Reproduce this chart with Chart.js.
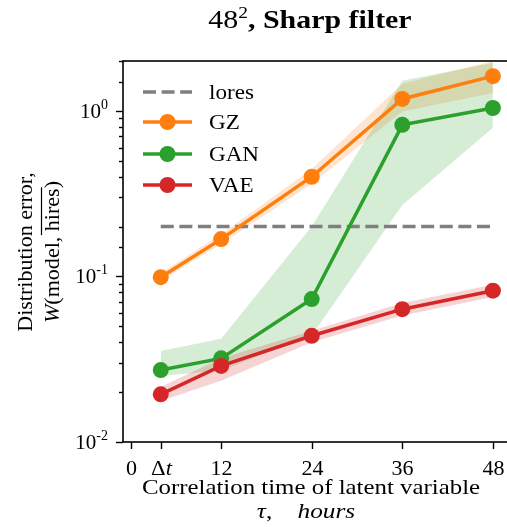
<!DOCTYPE html>
<html>
<head>
<meta charset="utf-8">
<script src="https://cdn.jsdelivr.net/npm/chart.js@4.4.1/dist/chart.umd.min.js"></script>
<style>
  html, body { margin: 0; padding: 0; background: #fff; overflow: hidden; }
  #wrap { width: 507px; height: 527px; overflow: hidden; }
</style>
</head>
<body>
<div id="wrap"><canvas id="errChart" width="520" height="527"></canvas></div>
<script>
// correlation time of the latent variable (hours), first point is dt
const hours = [4, 12, 24, 36, 48];
const xTickValues = [0, 4, 12, 24, 36, 48];
const xTickLabels = ["0", "Δt", "12", "24", "36", "48"];
const yTickValues = [0.01, 0.1, 1];
const yTickExps = ["-2", "-1", "0"];

// low-res baseline
const loresErr = [0.2, 0.2, 0.2, 0.2, 0.2];

// mean distribution error and spread for each model
const gzErr = [0.099, 0.168, 0.40, 1.18, 1.62];
const gzLow = [0.094, 0.157, 0.362, 0.99, 1.28];
const gzHigh = [0.105, 0.18, 0.445, 1.46, 2.0];

const ganErr = [0.0272, 0.032, 0.073, 0.823, 1.04];
const ganLow = [0.025, 0.027, 0.044, 0.27, 0.79];
const ganHigh = [0.0355, 0.042, 0.2, 1.52, 1.95];

const vaeErr = [0.0194, 0.0288, 0.0438, 0.0634, 0.082];
const vaeLow = [0.0177, 0.0234, 0.040, 0.058, 0.075];
const vaeHigh = [0.0215, 0.032, 0.047, 0.069, 0.089];

const seriesNames = ["GZ", "GAN", "VAE"];
const seriesColors = ["#ff7f0e", "#2ca02c", "#d62728"];
const loresColor = "#7f7f7f";

const SERIF = '"Liberation Serif", "DejaVu Serif", serif';

function pts(ys) {
  return hours.map((h, i) => ({ x: h, y: ys[i] }));
}

function alpha(hex, a) {
  const n = parseInt(hex.slice(1), 16);
  return `rgba(${(n >> 16) & 255}, ${(n >> 8) & 255}, ${n & 255}, ${a})`;
}

// band = invisible lower edge + upper edge filled down to it
function bandSets(low, high, color, order) {
  return [
    { data: pts(low), borderWidth: 0, pointRadius: 0, fill: false, order: order },
    { data: pts(high), borderWidth: 0, pointRadius: 0, fill: "-1",
      backgroundColor: alpha(color, 0.2), order: order },
  ];
}

function lineSet(name, ys, color, order) {
  return {
    label: name, data: pts(ys), borderColor: color, backgroundColor: color,
    borderWidth: 3.5, pointRadius: 8, pointHoverRadius: 8, pointBorderWidth: 0,
    fill: false, order: order,
  };
}

// bands sit under every line (higher order = drawn earlier)
const datasets = [
  { label: "lores", data: pts(loresErr), borderColor: loresColor, borderWidth: 3.5,
    borderDash: [13, 5.6], pointRadius: 0, fill: false, order: 10 },
  ...bandSets(gzLow, gzHigh, seriesColors[0], 20),
  lineSet(seriesNames[0], gzErr, seriesColors[0], 7),
  ...bandSets(ganLow, ganHigh, seriesColors[1], 19),
  lineSet(seriesNames[1], ganErr, seriesColors[1], 5),
  ...bandSets(vaeLow, vaeHigh, seriesColors[2], 18),
  lineSet(seriesNames[2], vaeErr, seriesColors[2], 3),
];

// draws [text, font, dy] pieces side by side, centred on cx, stretched by k
function drawPieces(ctx, pieces, cx, y, k) {
  k = k || 1;
  let total = 0;
  pieces.forEach(p => { ctx.font = p[1]; total += ctx.measureText(p[0]).width; });
  ctx.save();
  ctx.translate(cx, y);
  ctx.scale(k, 1);
  let x = -total / 2;
  const spans = [];
  pieces.forEach(p => {
    ctx.font = p[1];
    const w = ctx.measureText(p[0]).width;
    ctx.fillText(p[0], x, p[2] || 0);
    spans.push([x * k, (x + w) * k]);
    x += w;
  });
  ctx.restore();
  return spans;
}

const axesPlugin = {
  id: "axesPlugin",
  afterDraw(chart) {
    const ctx = chart.ctx;
    const area = chart.chartArea;
    const xs = chart.scales.x;
    const ys = chart.scales.y;
    ctx.save();
    ctx.fillStyle = "#000";
    ctx.strokeStyle = "#000";
    ctx.textBaseline = "alphabetic";
    ctx.textAlign = "left";

    // frame
    ctx.lineWidth = 1.6;
    ctx.strokeRect(area.left, area.top, area.right - area.left, area.bottom - area.top);

    // x ticks and labels
    ctx.lineWidth = 1.4;
    xTickValues.forEach((v, i) => {
      const px = Math.round(xs.getPixelForValue(v)) + 0.5;
      ctx.beginPath();
      ctx.moveTo(px, area.bottom);
      ctx.lineTo(px, area.bottom + 7);
      ctx.stroke();
      const lab = xTickLabels[i];
      if (lab === "Δt") {
        drawPieces(ctx, [["Δ", `21px ${SERIF}`], ["t", `italic 21px ${SERIF}`]], px, 475, 1.08);
      } else {
        drawPieces(ctx, [[lab, `21px ${SERIF}`]], px, 475, 1.05);
      }
    });

    // y ticks: long ones on decades, short ones between
    ys.ticks.forEach(t => {
      const lg = Math.log10(t.value);
      const major = Math.abs(lg - Math.round(lg)) < 1e-6;
      const py = Math.round(ys.getPixelForValue(t.value)) + 0.5;
      ctx.beginPath();
      ctx.moveTo(area.left, py);
      ctx.lineTo(area.left - (major ? 7 : 4), py);
      ctx.stroke();
    });
    yTickValues.forEach((v, i) => {
      const py = ys.getPixelForValue(v);
      ctx.font = `14px ${SERIF}`;
      const ew = ctx.measureText(yTickExps[i]).width;
      ctx.textAlign = "right";
      ctx.fillText(yTickExps[i], 108, py - 2);
      ctx.font = `21px ${SERIF}`;
      ctx.fillText("10", 108 - ew, py + 7);
      ctx.textAlign = "left";
    });

    // x axis title
    drawPieces(ctx, [["Correlation time of latent variable", `22px ${SERIF}`]], 311, 494, 1.13);
    drawPieces(ctx, [["τ", `italic 22px ${SERIF}`], [",    ", `22px ${SERIF}`],
      ["hours", `italic 22px ${SERIF}`]], 306, 518, 1.15);

    // y axis title, rotated
    const cy = 252;
    ctx.save();
    ctx.translate(32, cy);
    ctx.rotate(-Math.PI / 2);
    drawPieces(ctx, [["Distribution error,", `21px ${SERIF}`]], 0, 0, 1.05);
    ctx.restore();
    ctx.save();
    ctx.translate(59, cy);
    ctx.rotate(-Math.PI / 2);
    const sp = drawPieces(ctx, [["W", `italic 21px ${SERIF}`], ["(model, ", `21px ${SERIF}`],
      ["hires", `21px ${SERIF}`], [")", `21px ${SERIF}`]], 0, 0, 1.05);
    // bar over "hires"
    ctx.lineWidth = 1.2;
    ctx.beginPath();
    ctx.moveTo(sp[2][0] - 4, -17.5);
    ctx.lineTo(sp[2][1] + 1, -17.5);
    ctx.stroke();
    ctx.restore();

    // title
    drawPieces(ctx, [["48", `26px ${SERIF}`], ["2", `17px ${SERIF}`, -10],
      [", Sharp filter", `bold 26px ${SERIF}`]], 310, 28, 1.15);

    // legend
    const rows = [92, 122, 154, 185];
    const lx0 = 143, lx1 = 192;
    chart.data.datasets.filter(d => d.label).forEach((d, i) => {
      const y = rows[i];
      ctx.strokeStyle = d.borderColor;
      ctx.lineWidth = 3.5;
      ctx.setLineDash(d.borderDash || []);
      ctx.beginPath();
      ctx.moveTo(lx0, y);
      ctx.lineTo(lx1, y);
      ctx.stroke();
      ctx.setLineDash([]);
      if (d.pointRadius) {
        ctx.fillStyle = d.backgroundColor;
        ctx.beginPath();
        ctx.arc((lx0 + lx1) / 2, y, 8, 0, 2 * Math.PI);
        ctx.fill();
      }
      ctx.fillStyle = "#000";
      ctx.font = `21px ${SERIF}`;
      ctx.save();
      ctx.translate(209, y + 7);
      ctx.scale(1.1, 1);
      ctx.fillText(d.label, 0, 0);
      ctx.restore();
    });
    ctx.restore();
  },
};

new Chart(document.getElementById("errChart"), {
  type: "line",
  data: { datasets: datasets },
  options: {
    responsive: false,
    devicePixelRatio: 1,
    animation: false,
    layout: { padding: { left: 123, top: 61, right: 12, bottom: 85 } },
    plugins: { legend: { display: false }, title: { display: false }, tooltip: { enabled: false } },
    scales: {
      x: {
        type: "linear", min: -1, max: 50,
        grid: { display: false }, ticks: { display: false }, border: { display: false },
        afterFit: s => { s.height = 0; },
      },
      y: {
        type: "logarithmic", min: 0.01, max: 2,
        grid: { display: false }, ticks: { display: false }, border: { display: false },
        afterFit: s => { s.width = 0; },
      },
    },
  },
  plugins: [axesPlugin],
});
</script>
</body>
</html>
